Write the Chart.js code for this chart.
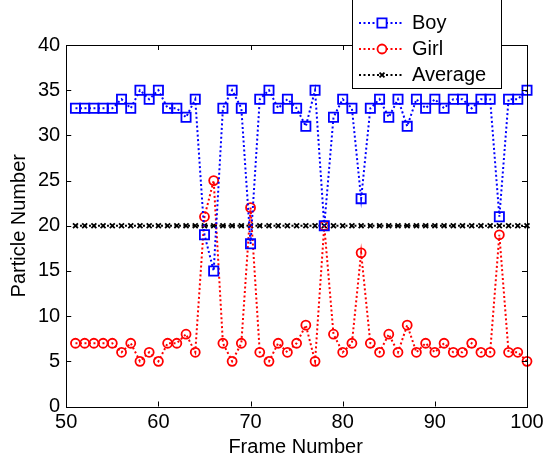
<!DOCTYPE html>
<html>
<head>
<meta charset="utf-8">
<script src="https://cdn.jsdelivr.net/npm/chart.js@4/dist/chart.umd.min.js"></script>
<style>
  html, body { margin: 0; padding: 0; background: #fff; }
  #wrap { width: 545px; height: 456px; }
</style>
</head>
<body>
<div id="wrap"><canvas id="particleChart"></canvas></div>
<script>
const frames = [51, 52, 53, 54, 55, 56, 57, 58, 59, 60, 61, 62, 63, 64, 65, 66, 67, 68, 69, 70,
    71, 72, 73, 74, 75, 76, 77, 78, 79, 80, 81, 82, 83, 84, 85, 86, 87, 88, 89, 90,
    91, 92, 93, 94, 95, 96, 97, 98, 99, 100];
const boyCounts = [33, 33, 33, 33, 33, 34, 33, 35, 34, 35, 33, 33, 32, 34, 19, 15, 33, 35, 33, 18,
    34, 35, 33, 34, 33, 31, 35, 20, 32, 34, 33, 23, 33, 34, 32, 34, 31, 34, 33, 34,
    33, 34, 34, 33, 34, 34, 21, 34, 34, 35];
const girlCounts = [7, 7, 7, 7, 7, 6, 7, 5, 6, 5, 7, 7, 8, 6, 21, 25, 7, 5, 7, 22,
    6, 5, 7, 6, 7, 9, 5, 20, 8, 6, 7, 17, 7, 6, 8, 6, 9, 6, 7, 6,
    7, 6, 6, 7, 6, 6, 19, 6, 6, 5];
const averageCounts = [20, 20, 20, 20, 20, 20, 20, 20, 20, 20, 20, 20, 20, 20, 20, 20, 20, 20, 20, 20,
    20, 20, 20, 20, 20, 20, 20, 20, 20, 20, 20, 20, 20, 20, 20, 20, 20, 20, 20, 20,
    20, 20, 20, 20, 20, 20, 20, 20, 20, 20];
const seriesNames = ['Boy', 'Girl', 'Average'];
const xTitle = 'Frame Number';
const yTitle = 'Particle Number';

const FONT = '"Liberation Sans", Arial, sans-serif';

function toPoints(values) {
    return frames.map((f, i) => ({ x: f, y: values[i] }));
}

// MATLAB style box with inward ticks on all four sides, plus axis titles
const boxTicks = {
    id: 'boxTicks',
    afterDraw(chart) {
        const { ctx, chartArea: a, scales } = chart;
        ctx.save();
        ctx.strokeStyle = '#000';
        ctx.lineWidth = 1;
        ctx.strokeRect(Math.round(a.left) + 0.5, Math.round(a.top) + 0.5,
            Math.round(a.right - a.left), Math.round(a.bottom - a.top));
        ctx.beginPath();
        scales.x.ticks.forEach(t => {
            const px = Math.round(scales.x.getPixelForValue(t.value)) + 0.5;
            ctx.moveTo(px, a.bottom); ctx.lineTo(px, a.bottom - 5);
            ctx.moveTo(px, a.top); ctx.lineTo(px, a.top + 5);
        });
        scales.y.ticks.forEach(t => {
            const py = Math.round(scales.y.getPixelForValue(t.value)) + 0.5;
            ctx.moveTo(a.left, py); ctx.lineTo(a.left + 5, py);
            ctx.moveTo(a.right, py); ctx.lineTo(a.right - 5, py);
        });
        ctx.stroke();

        ctx.fillStyle = '#000';
        ctx.font = '20px ' + FONT;
        ctx.textAlign = 'center';
        ctx.textBaseline = 'middle';
        ctx.fillText(xTitle, (a.left + a.right) / 2 - 1, a.bottom + 41);
        ctx.translate(19, (a.top + a.bottom) / 2);
        ctx.rotate(-Math.PI / 2);
        ctx.fillText(yTitle, 0, 0);
        ctx.restore();
    }
};

// legend box in the top right, cut off by the top edge like the original
const boxLegend = {
    id: 'boxLegend',
    afterDraw(chart) {
        const ctx = chart.ctx;
        const left = 352, right = 501, bottom = 88;
        ctx.save();
        ctx.fillStyle = '#fff';
        ctx.fillRect(left, -5, right - left, bottom + 5);
        ctx.strokeStyle = '#000';
        ctx.lineWidth = 1;
        ctx.strokeRect(left + 0.5, -5, right - left, bottom + 5.5);
        chart.data.datasets.forEach((ds, i) => {
            const y = 23 + i * 26;
            ctx.save();
            ctx.strokeStyle = ds.borderColor;
            ctx.lineWidth = ds.borderWidth;
            ctx.setLineDash(ds.borderDash);
            ctx.beginPath();
            ctx.moveTo(359, y); ctx.lineTo(404, y);
            ctx.stroke();
            ctx.setLineDash([]);
            ctx.fillStyle = '#fff';
            ctx.lineWidth = ds.pointBorderWidth;
            Chart.helpers.drawPoint(ctx, {
                pointStyle: ds.pointStyle,
                radius: ds.pointRadius,
                rotation: 0,
                borderWidth: ds.pointBorderWidth
            }, 382, y);
            ctx.restore();
            ctx.fillStyle = '#000';
            ctx.font = '20px ' + FONT;
            ctx.textBaseline = 'middle';
            ctx.fillText(ds.label, 412, y);
        });
        ctx.restore();
    }
};

document.addEventListener('DOMContentLoaded', () => {
    const ctx = document.getElementById('particleChart').getContext('2d');
    const base = {
        borderWidth: 2,
        borderDash: [2, 2.5],
        backgroundColor: 'transparent',
        pointBorderWidth: 1.8,
        pointBackgroundColor: 'transparent',
        fill: false,
        tension: 0,
        clip: 10
    };
    new Chart(ctx, {
        type: 'line',
        data: {
            datasets: [
                Object.assign({}, base, {
                    label: seriesNames[0],
                    data: toPoints(boyCounts),
                    borderColor: '#0000ff',
                    pointBorderColor: '#0000ff',
                    pointStyle: 'rect',
                    pointRadius: 6.5
                }),
                Object.assign({}, base, {
                    label: seriesNames[1],
                    data: toPoints(girlCounts),
                    borderColor: '#ff0000',
                    pointBorderColor: '#ff0000',
                    pointStyle: 'circle',
                    pointRadius: 4.5
                }),
                Object.assign({}, base, {
                    label: seriesNames[2],
                    data: toPoints(averageCounts),
                    borderColor: '#000000',
                    pointBorderColor: '#000000',
                    pointStyle: 'crossRot',
                    pointRadius: 3.5
                })
            ]
        },
        options: {
            responsive: true,
            maintainAspectRatio: false,
            animation: false,
            events: [],
            layout: { padding: { left: 32, top: 45, right: 18, bottom: 17.5 } },
            plugins: {
                legend: { display: false },
                tooltip: { enabled: false }
            },
            scales: {
                x: {
                    type: 'linear',
                    min: 50,
                    max: 100,
                    grid: { display: false, drawTicks: false },
                    border: { display: false },
                    ticks: { stepSize: 10, color: '#000', padding: 4, font: { family: FONT, size: 20 } },
                    // let the "100" label hang into the right margin
                    afterFit(scale) { scale.paddingRight = 0; scale.paddingLeft = 0; }
                },
                y: {
                    min: 0,
                    max: 40,
                    grid: { display: false, drawTicks: false },
                    border: { display: false },
                    ticks: { stepSize: 5, color: '#000', padding: 6, font: { family: FONT, size: 20 } }
                }
            }
        },
        plugins: [boxTicks, boxLegend]
    });
});
</script>
</body>
</html>
